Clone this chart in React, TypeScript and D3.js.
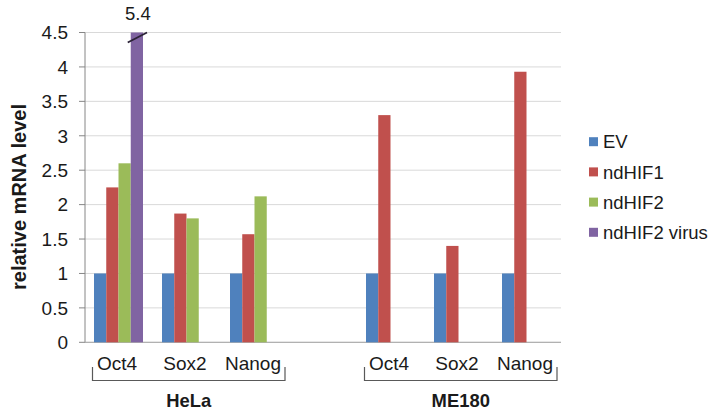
import React from "react";
import * as d3 from "d3";

// Categories per slot: HeLa genes, an empty spacer slot, then ME180 genes
const slots = ["HeLa-Oct4", "HeLa-Sox2", "HeLa-Nanog", "gap", "ME180-Oct4", "ME180-Sox2", "ME180-Nanog"];
const geneLabels = ["Oct4", "Sox2", "Nanog", "", "Oct4", "Sox2", "Nanog"];
const groups = ["HeLa", "ME180"];
const groupSlots = [["HeLa-Oct4", "HeLa-Nanog"], ["ME180-Oct4", "ME180-Nanog"]];

const seriesNames = ["EV", "ndHIF1", "ndHIF2", "ndHIF2 virus"];
const seriesColors = ["#4f81bd", "#c0504d", "#9bbb59", "#8064a2"];

// Values per series, aligned with slots (null = no bar)
const evValues = [1, 1, 1, null, 1, 1, 1];
const ndHIF1Values = [2.25, 1.87, 1.57, null, 3.3, 1.4, 3.93];
const ndHIF2Values = [2.6, 1.8, 2.12, null, null, null, null];
const ndHIF2VirusValues = [5.4, null, null, null, null, null, null];

const yTicks = [0, 0.5, 1, 1.5, 2, 2.5, 3, 3.5, 4, 4.5];
const yMax = 4.5;

const W = 714;
const H = 413;

export default function App() {
  const series = [evValues, ndHIF1Values, ndHIF2Values, ndHIF2VirusValues];

  const x = d3.scaleBand<string>().domain(slots).range([85, 561]).padding(0);
  const inner = d3.scaleBand<string>().domain(seriesNames).range([9, 58]).padding(0);
  const y = d3.scaleLinear().domain([0, yMax]).range([342.3, 32.5]);

  const fmt = d3.format("~g");
  const font = "Arial, 'Liberation Sans', sans-serif";
  const textColor = "#1a1a1a";

  const bars: React.ReactNode[] = [];
  const breaks: React.ReactNode[] = [];
  series.forEach((vals, si) => {
    vals.forEach((v, ci) => {
      if (v == null) return;
      const x0 = (x(slots[ci]) as number) + (inner(seriesNames[si]) as number);
      const w = inner.bandwidth();
      const shown = Math.min(v, yMax);
      bars.push(
        <rect
          key={`b-${si}-${ci}`}
          x={x0}
          y={y(shown)}
          width={w}
          height={y(0) - y(shown)}
          fill={seriesColors[si]}
        />
      );
      if (v > yMax) {
        // axis break mark and the actual value above the clipped bar
        breaks.push(
          <g key={`brk-${si}-${ci}`}>
            <line
              x1={x0 - 3}
              y1={y(yMax) + 10}
              x2={x0 + w + 4}
              y2={y(yMax)}
              stroke="#2b2236"
              strokeWidth={1.8}
            />
            <text
              x={x0 + w / 2 + 1}
              y={20}
              textAnchor="middle"
              fontSize={18.5}
              fontFamily={font}
              fill={textColor}
            >
              {fmt(v)}
            </text>
          </g>
        );
      }
    });
  });

  const groupRanges = groupSlots.map(([a, b]) => [
    x(a) as number,
    (x(b) as number) + x.bandwidth(),
  ]);

  return (
    <svg width={W} height={H} style={{ position: "absolute", left: 0, top: 0, background: "#fff" }}>
      {/* gridlines */}
      {yTicks.map((t) => (
        <line key={`g-${t}`} x1={85} x2={561} y1={y(t)} y2={y(t)} stroke="#d9d9d9" strokeWidth={1} />
      ))}
      {/* y axis, ticks, labels */}
      <line x1={85} x2={85} y1={y(yMax)} y2={y(0)} stroke="#868686" strokeWidth={1} />
      {yTicks.map((t) => (
        <g key={`t-${t}`}>
          <line x1={79} x2={85} y1={y(t)} y2={y(t)} stroke="#868686" strokeWidth={1} />
          <text
            x={68}
            y={y(t)}
            dy="0.36em"
            textAnchor="end"
            fontSize={19}
            fontFamily={font}
            fill={textColor}
          >
            {fmt(t)}
          </text>
        </g>
      ))}
      <line x1={85} x2={561} y1={y(0)} y2={y(0)} stroke="#a6a6a6" strokeWidth={1} />

      {bars}
      {breaks}

      {/* gene labels */}
      {geneLabels.map((g, i) =>
        g ? (
          <text
            key={`c-${i}`}
            x={(x(slots[i]) as number) + x.bandwidth() / 2 - 2}
            y={370}
            textAnchor="middle"
            fontSize={19}
            fontFamily={font}
            fill={textColor}
          >
            {g}
          </text>
        ) : null
      )}

      {/* group brackets and labels */}
      {groups.map((gname, gi) => {
        const [a, b] = groupRanges[gi];
        const l = a + 7.5;
        const r = b - 4;
        return (
          <g key={`grp-${gname}`}>
            <path
              d={`M${l},367V380.5H${r}V367`}
              fill="none"
              stroke="#595959"
              strokeWidth={1.2}
            />
            <text
              x={(l + r) / 2}
              y={407}
              textAnchor="middle"
              fontSize={18.4}
              fontWeight="bold"
              fontFamily={font}
              fill={textColor}
            >
              {gname}
            </text>
          </g>
        );
      })}

      {/* y axis title */}
      <text
        transform="translate(26,197) rotate(-90)"
        textAnchor="middle"
        fontSize={20}
        fontWeight="bold"
        fontFamily={font}
        fill={textColor}
      >
        relative mRNA level
      </text>

      {/* legend */}
      {seriesNames.map((s, i) => {
        const cy = 141.7 + i * 30.2;
        return (
          <g key={`lg-${s}`}>
            <rect x={589} y={cy - 4.5} width={9} height={9} fill={seriesColors[i]} />
            <text
              x={603}
              y={cy}
              dy="0.36em"
              fontSize={18.5}
              fontFamily={font}
              fill={textColor}
            >
              {s}
            </text>
          </g>
        );
      })}
    </svg>
  );
}
